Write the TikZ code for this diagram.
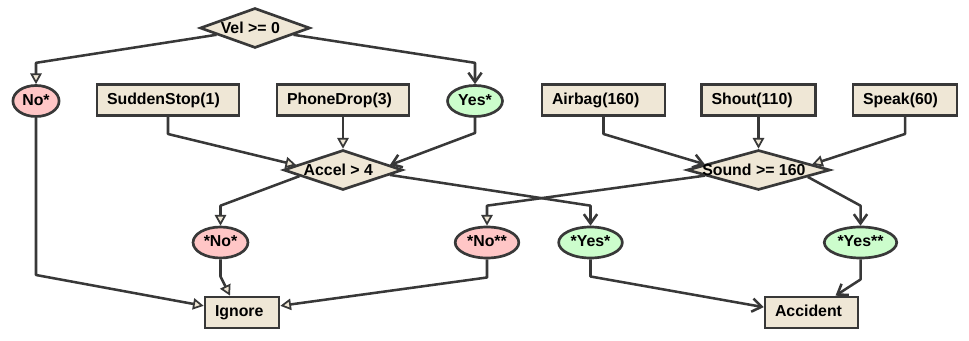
\documentclass[tikz,border=0pt]{standalone}
\usepackage{fontspec}
\setmainfont{Liberation Sans}
\usetikzlibrary{shapes.geometric, arrows.meta}
\definecolor{ink}{HTML}{383838}
\definecolor{tanbg}{HTML}{EFE7D6}
\definecolor{nobg}{HTML}{FFC6C6}
\definecolor{yesbg}{HTML}{CCFDCC}

\begin{document}
\begin{tikzpicture}[
  x=0.75pt, y=-0.75pt,
  font=\bfseries\fontsize{11.9}{14}\selectfont,
  eventbox/.style={rectangle, draw=ink, fill=tanbg, line width=2pt,
    text width=#1, align=left, inner xsep=7.5pt, inner ysep=0pt,
    minimum height=23.25pt, text height=9pt, text depth=2.5pt},
  decision/.style={diamond, draw=ink, fill=tanbg, line width=2pt,
    inner sep=0pt, minimum height=30pt, label={[xshift=-3.5pt]center:#1}},
  outcome/.style={ellipse, draw=ink, fill=#1, line width=2pt,
    inner xsep=2pt, inner ysep=0pt, minimum height=23.25pt,
    text height=9pt, text depth=2.5pt},
  noedge/.style={-{Triangle[length=8pt, width=8.5pt, fill=tanbg, line width=1.3pt]},
    draw=ink, line width=1.9pt, line join=round},
  yesedge/.style={-{Straight Barb[length=7pt, width=10pt]},
    draw=ink, line width=1.9pt, line join=round}
]
\useasboundingbox (0,0) rectangle (969,341);

% tests
\node[decision={Vel >= 0}, minimum width=82.5pt] (vel) at (255,28) {};
\node[decision={Accel > 4}, minimum width=89.25pt] (accel) at (343,170) {};
\node[decision={Sound >= 160}, minimum width=107.25pt] (sound) at (758.5,170) {};

% sensor events
\node[eventbox=91.5pt] (sudden) at (168,100) {SuddenStop(1)};
\node[eventbox=84pt] (phone) at (343,100) {PhoneDrop(3)};
\node[eventbox=77.25pt] (airbag) at (603.5,100) {Airbag(160)};
\node[eventbox=70.5pt] (shout) at (758.5,100) {Shout(110)};
\node[eventbox=63pt] (speak) at (905,100) {Speak(60)};

% branch outcomes
\node[outcome=nobg] (no1) at (36,101) {No*};
\node[outcome=yesbg] (yes1) at (475,101) {Yes*};
\node[outcome=nobg] (no2) at (220.5,242.5) {*No*};
\node[outcome=nobg] (no3) at (487,242.5) {*No**};
\node[outcome=yesbg] (yes2) at (590.5,242.5) {*Yes*};
\node[outcome=yesbg] (yes3) at (860.5,242.5) {*Yes**};

% results
\node[eventbox=40.5pt] (ignore) at (242,312.5) {Ignore};
\node[eventbox=54.75pt] (accident) at (811.5,312.5) {Accident};

\draw[noedge] (vel.190) -- ([yshift=16pt]no1.north) -- (no1);
\draw[yesedge] (vel.-10) -- ([yshift=16pt]yes1.north) -- (yes1);
\draw[noedge] (sudden) -- ++(0,34) -- (accel.174);
\draw[noedge] (phone) -- (accel);
\draw[yesedge] (yes1) -- ++(0,32) -- (accel.6);
\draw[noedge] (accel.-172) -- ([yshift=15pt]no2.north) -- (no2);
\draw[yesedge] (accel.-6) -- ([yshift=15pt]yes2.north) -- (yes2);
\draw[yesedge] (airbag) -- ++(0,34) -- (sound.174);
\draw[noedge] (shout) -- (sound);
\draw[noedge] (speak) -- ++(0,34) -- (sound.6);
\draw[noedge] (sound.-174) -- ([yshift=15pt]no3.north) -- (no3);
\draw[yesedge] (sound.-8) -- ([yshift=15pt]yes3.north) -- (yes3);
\draw[noedge] (no1) -- ++(0,174) -- ([yshift=5pt]ignore.west);
\draw[noedge] (no2) -- ++(0,34) -- ([xshift=-9pt]ignore.north);
\draw[noedge] (no3) -- ++(0,35) -- ([yshift=5pt]ignore.east);
\draw[yesedge] (yes2) -- ++(0,34) -- ([yshift=4pt]accident.west);
\draw[yesedge] (yes3) -- ++(0,37) -- ([xshift=18pt]accident.north);
\end{tikzpicture}
\end{document}
